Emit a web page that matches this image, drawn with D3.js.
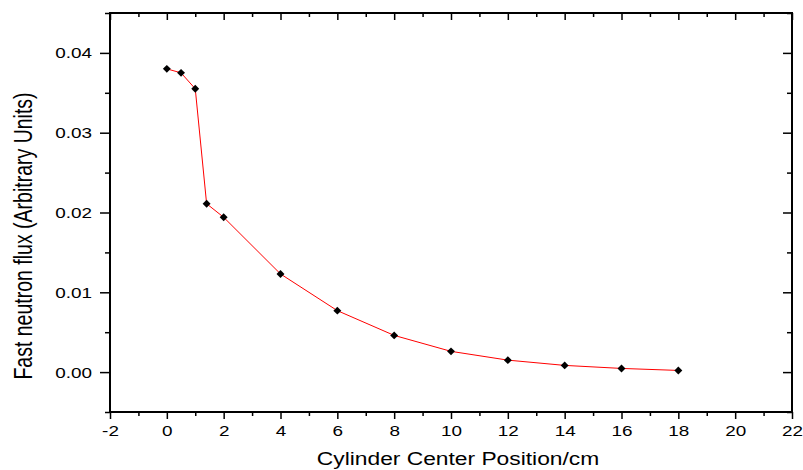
<!DOCTYPE html>
<html lang="en">
<head>
<meta charset="utf-8">
<script src="https://cdn.jsdelivr.net/npm/d3@7/dist/d3.min.js"></script>
<style type="text/css">
body {
	margin: 0;
	background: #fff;
	font-family: "Liberation Sans", Arial, sans-serif;
}
text {
	font-family: "Liberation Sans", Arial, sans-serif;
	fill: #000;
}
.tick text {
	font-size: 15.5px;
}
</style>
</head>
<body>
<script type="text/javascript">

// cylinder centre position (cm) and fast neutron flux
var positions = [0, 0.5, 1, 1.4, 2, 4, 6, 8, 10, 12, 14, 16, 18];
var flux = [0.0380, 0.0375, 0.0355, 0.0211, 0.0194, 0.0123, 0.0077, 0.0046, 0.0026, 0.0015, 0.00084, 0.00046, 0.00021];
var xTicks = [-2, 0, 2, 4, 6, 8, 10, 12, 14, 16, 18, 20, 22];
var yTicks = [0, 0.01, 0.02, 0.03, 0.04];

var width = 803;
var height = 470;
var margin = {top: 13, right: 11, bottom: 58, left: 110};
var w = width - margin.left - margin.right;
var h = height - margin.top - margin.bottom;
var stretch = 1.22; // text in the picture is a bit wide

var x = d3.scaleLinear().domain([-2, 22]).range([0, w]);
var y = d3.scaleLinear().domain([-0.005, 0.045]).range([h, 0]);

var svg = d3.select("body")
			.append("svg")
			.attr("width", width)
			.attr("height", height);

var g = svg.append("g")
		   .attr("transform", "translate(" + margin.left + "," + margin.top + ")");

// minor tick positions
var xMinor = d3.range(-1, 22, 2);
var yMinor = [-0.005, 0.005, 0.015, 0.025, 0.035, 0.045];

function styleAxis(sel) {
	sel.attr("font-family", null).attr("font-size", null);
	sel.selectAll("path").remove();
	sel.selectAll("line").attr("stroke", "#000").attr("stroke-width", 1.5);
}

// bottom
g.append("g").attr("transform", "translate(0," + h + ")")
	.call(d3.axisBottom(x).tickValues(xTicks).tickSize(7).tickPadding(6).tickFormat(function(d) { return String(d); }))
	.call(styleAxis)
	.selectAll(".tick text")
	.attr("transform", "scale(" + stretch + ",1)");
g.append("g").attr("transform", "translate(0," + h + ")")
	.call(d3.axisBottom(x).tickValues(xMinor).tickSize(4).tickFormat(""))
	.call(styleAxis);
// top (inward)
g.append("g")
	.call(d3.axisBottom(x).tickValues(xTicks).tickSize(7).tickFormat(""))
	.call(styleAxis);
g.append("g")
	.call(d3.axisBottom(x).tickValues(xMinor).tickSize(4).tickFormat(""))
	.call(styleAxis);
// left
g.append("g")
	.call(d3.axisLeft(y).tickValues(yTicks).tickSize(10).tickFormat(d3.format(".2f")))
	.call(styleAxis)
	.selectAll(".tick text")
	.attr("x", 0)
	.attr("transform", "translate(-18,0) scale(" + stretch + ",1)");
g.append("g")
	.call(d3.axisLeft(y).tickValues(yMinor).tickSize(5).tickFormat(""))
	.call(styleAxis);
// right (inward)
g.append("g").attr("transform", "translate(" + w + ",0)")
	.call(d3.axisLeft(y).tickValues(yTicks).tickSize(9).tickFormat(""))
	.call(styleAxis);
g.append("g").attr("transform", "translate(" + w + ",0)")
	.call(d3.axisLeft(y).tickValues(yMinor).tickSize(5).tickFormat(""))
	.call(styleAxis);

// frame
g.append("rect")
	.attr("width", w)
	.attr("height", h)
	.attr("fill", "none")
	.attr("stroke", "#000")
	.attr("stroke-width", 2);

var data = positions.map(function(p, i) { return {x: p, y: flux[i]}; });

var line = d3.line()
			 .x(function(d) { return x(d.x); })
			 .y(function(d) { return y(d.y); });

g.append("path")
	.datum(data)
	.attr("d", line)
	.attr("fill", "none")
	.attr("stroke", "#ff0000")
	.attr("stroke-width", 1);

g.selectAll(".pt")
	.data(data)
	.enter()
	.append("path")
	.attr("class", "pt")
	.attr("transform", function(d) { return "translate(" + x(d.x) + "," + y(d.y) + ")"; })
	.attr("d", d3.symbol().type(d3.symbolDiamond2).size(40))
	.attr("fill", "#000");

// axis titles
svg.append("text")
	.attr("transform", "translate(458,465) scale(1.2,1)")
	.attr("text-anchor", "middle")
	.style("font-size", "19px")
	.text("Cylinder Center Position/cm");

svg.append("text")
	.attr("transform", "translate(32,236) scale(1.3,1) rotate(-90)")
	.attr("text-anchor", "middle")
	.style("font-size", "19.5px")
	.text("Fast neutron flux (Arbitrary Units)");

</script>
</body>
</html>
